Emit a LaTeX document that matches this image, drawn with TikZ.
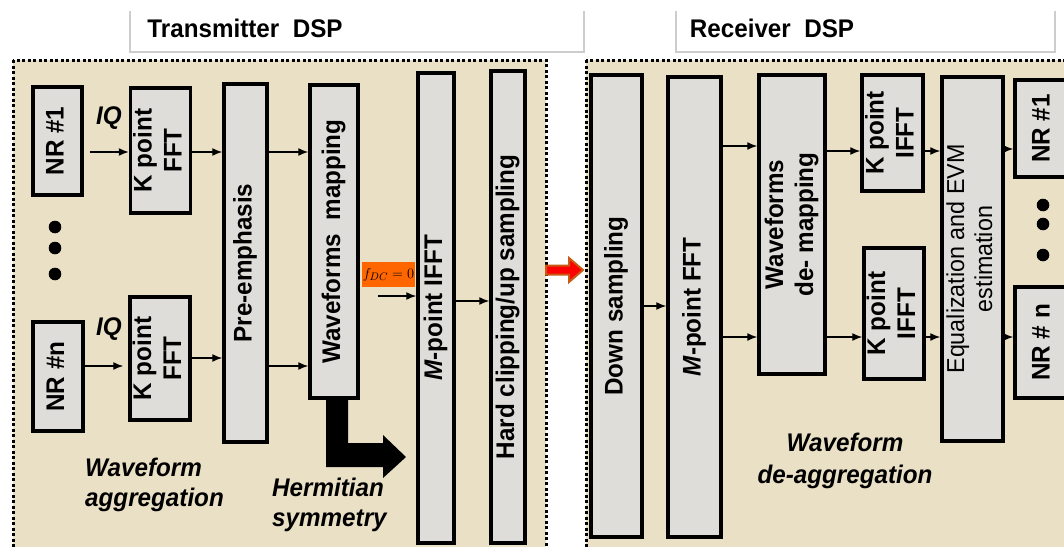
\documentclass[tikz,border=0pt]{standalone}
\usepackage{fontspec}
\setmainfont[FakeStretch=0.95]{Liberation Sans}
\usetikzlibrary{arrows.meta}
\definecolor{parch}{RGB}{234,224,197}
\definecolor{boxgray}{RGB}{223,221,217}
\definecolor{fdcorange}{RGB}{255,102,0}
\definecolor{hdrline}{RGB}{205,205,205}
\definecolor{arrowedge}{RGB}{200,90,20}
\newcommand{\lblfont}{\bfseries\fontsize{25.5}{30}\selectfont}
\newcommand{\vtext}[1]{\rotatebox{90}{\begin{tabular}{@{}c@{}}#1\end{tabular}}}
\begin{document}
\begin{tikzpicture}[x=1pt,y=-1pt,
  blk/.style={draw=black,line width=3.5pt,fill=boxgray,inner sep=0pt,font=\lblfont},
  arr/.style={-{Latex[length=10pt,width=8pt]},line width=1.4pt},
  panel/.style={fill=parch,draw=black,line width=3pt,dash pattern=on 3pt off 2.5pt},
  hdr/.style={draw=hdrline,line width=1.2pt},
  ital/.style={font=\bfseries\itshape\fontsize{25.5}{30}\selectfont,inner sep=0pt},
  ttl/.style={font=\lblfont,inner sep=0pt},
  dotmark/.style={fill=black}
]
\useasboundingbox (0,0) rectangle (1064,546);
\clip (0,0) rectangle (1064,546);
\fill[white] (0,0) rectangle (1064,546);

% headers
\draw[hdr] (130,11) -- (130,52) -- (584,52) -- (584,11);
\draw[hdr] (676,11) -- (676,52) -- (1055,52) -- (1055,11);
\node[ttl] (txt) at (245,28) {Transmitter\ \ DSP};
\node[ttl] (rxt) at (772,28) {Receiver\ \ DSP};

% panels
\draw[panel] (13,60) rectangle (546,600);
\draw[panel] (586,60) rectangle (1100,600);

% ---------------- Transmitter ----------------
\node[blk,minimum width=49pt,minimum height=108pt] (nr1) at (57.5,141) {\vtext{NR \#1}};
\node[blk,minimum width=50pt,minimum height=109pt] (nrn) at (58,376.5) {\vtext{NR \#n}};
\node[blk,minimum width=55pt,minimum height=125pt] (fft1) at (160.5,150.5) {\vtext{K point\\FFT}};
\node[blk,minimum width=54pt,minimum height=123pt] (fftn) at (160,358.5) {\vtext{K point\\FFT}};
\node[blk,minimum width=43pt,minimum height=358pt] (pre) at (245.5,263) {\vtext{Pre-emphasis}};
\node[blk,minimum width=48pt,minimum height=313pt] (wfm) at (334,241.5) {\vtext{Waveforms\ \ mapping}};
\node[blk,minimum width=36pt,minimum height=470pt] (ifft) at (436,308) {\vtext{\textit{M}-point IFFT}};
\node[blk,minimum width=34pt,minimum height=472pt] (hcl) at (508,307) {\vtext{Hard clipping/up sampling}};
\node[fill=fdcorange,minimum width=53pt,minimum height=25pt,inner sep=0pt,font=\fontsize{15.5}{18}\selectfont] (fdc) at (388.5,274.5) {$f_{DC}=0$};

\fill[dotmark] (55,227) circle (6.3);
\fill[dotmark] (55,248) circle (6.3);
\fill[dotmark] (55,274) circle (6.3);

\node[ital] (iq1) at (109,118) {IQ};
\node[ital] (iqn) at (109,329) {IQ};

\draw[arr,shorten <=6pt] (nr1.east |- 0,152) -- (fft1.west |- 0,152);
\draw[arr] (fft1.east |- 0,152) -- (pre.west |- 0,152);
\draw[arr] (pre.east |- 0,152) -- (wfm.west |- 0,152);
\draw[arr,shorten >=5pt] (nrn.east |- 0,366) -- (fftn.west |- 0,366);
\draw[arr] (fftn.east |- 0,358) -- (pre.west |- 0,358);
\draw[arr] (pre.east |- 0,366) -- (wfm.west |- 0,366);
\coordinate (fdcin) at (378,296);
\draw[arr] (fdcin) -- (ifft.west |- fdcin);
\draw[arr] (ifft.east |- 0,301) -- (hcl.west |- 0,301);

% Hermitian symmetry arrow
\fill[black] (326,398) -- (348,398) -- (348,443) -- (383,443) -- (383,435) -- (406,457)
  -- (383,478) -- (383,467) -- (326,467) -- cycle;

\node[ital,anchor=west,align=left] (wagg) at (85,485) {Waveform\\aggregation};
\node[ital,anchor=west,align=left] (herm) at (272,505) {Hermitian\\symmetry};

% link arrow
\draw[fill=red,draw=arrowedge,line width=2pt,line join=miter]
  (546,265.5) -- (569,265.5) -- (569,258) -- (583,270) -- (569,282) -- (569,274.5) -- (546,274.5) -- cycle;

% ---------------- Receiver ----------------
\node[blk,minimum width=51pt,minimum height=462pt] (ds) at (616.5,306) {\vtext{Down sampling}};
\node[blk,minimum width=53pt,minimum height=460pt] (mfft) at (694.5,307) {\vtext{\textit{M}-point FFT}};
\node[blk,minimum width=66pt,minimum height=299pt] (wdm) at (792,224.5) {\vtext{Waveforms\\de- mapping}};
\node[blk,minimum width=61pt,minimum height=116pt] (kif1) at (892.5,133) {\vtext{K point\\IFFT}};
\node[blk,minimum width=58pt,minimum height=131pt] (kifn) at (894,313.5) {\vtext{K point\\IFFT}};
\node[blk,minimum width=61pt,minimum height=364pt,font=\fontsize{24.5}{28}\selectfont] (eq) at (972.5,259) {\vtext{Equalization and EVM\\estimation}};
\node[blk,minimum width=57pt,minimum height=97pt] (rnr1) at (1043.5,128.5) {\vtext{NR \#1}};
\node[blk,minimum width=57pt,minimum height=111pt] (rnrn) at (1043.5,342.5) {\vtext{NR \# n}};

\fill[dotmark] (1043,205) circle (6.3);
\fill[dotmark] (1043,224) circle (6.3);
\fill[dotmark] (1043,255) circle (6.3);

\draw[arr] (ds.east |- 0,306) -- (mfft.west |- 0,306);
\draw[arr] (mfft.east |- 0,146) -- (wdm.west |- 0,146);
\draw[arr] (mfft.east |- 0,337) -- (wdm.west |- 0,337);
\draw[arr] (wdm.east |- 0,151) -- (kif1.west |- 0,151);
\draw[arr] (wdm.east |- 0,337) -- (kifn.west |- 0,337);
\draw[arr] (kif1.east |- 0,151) -- (eq.west |- 0,151);
\draw[arr] (kifn.east |- 0,337) -- (eq.west |- 0,337);
\draw[arr] (eq.east |- 0,149) -- (rnr1.west |- 0,149);
\draw[arr] (eq.east |- 0,337) -- (rnrn.west |- 0,337);

\node[ital,align=center] (wdeagg) at (845,461) {Waveform\\[2pt]de-aggregation};
\end{tikzpicture}
\end{document}
